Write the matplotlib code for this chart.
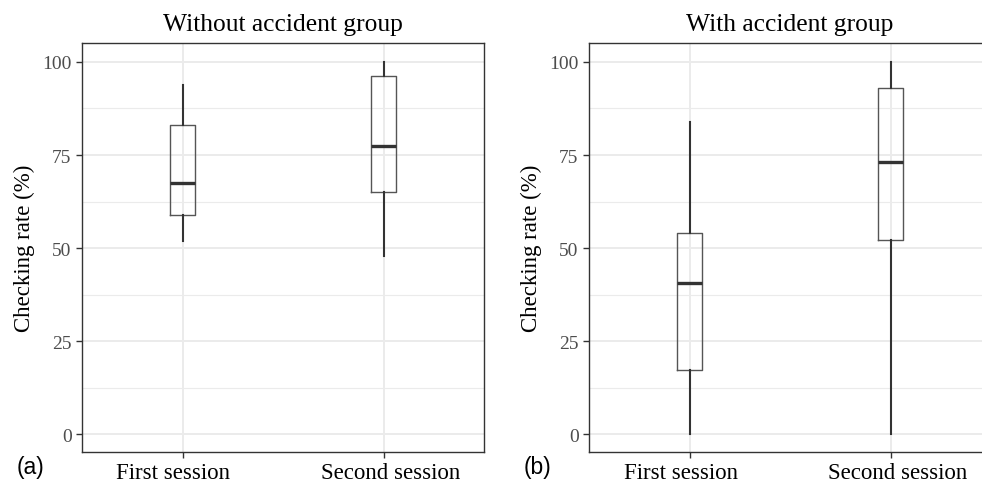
import matplotlib.pyplot as plt
from matplotlib.transforms import ScaledTranslation

# box stats: whisker low, Q1, median, Q3, whisker high
sessions = ['First session', 'Second session']
titles = ['Without accident group', 'With accident group']
panel_tags = ['(a)', '(b)']

without_low = [52.0, 47.9]
without_q1 = [58.8, 65.1]
without_med = [67.4, 77.4]
without_q3 = [83.2, 96.1]
without_high = [93.7, 100.0]

with_low = [0.0, 0.0]
with_q1 = [17.2, 52.2]
with_med = [40.5, 73.1]
with_q3 = [54.1, 93.0]
with_high = [84.0, 100.0]

yticks = [0, 25, 50, 75, 100]

plt.rcParams['font.family'] = ['Liberation Serif', 'DejaVu Serif']

fig = plt.figure(figsize=(9.82, 4.85), dpi=100)
W, H = 982.0, 485.0
axes_px = [(82, 44, 484, 453), (589, 44, 991, 453)]
label_shift_px = [-9, 7]  # the session labels sit a bit off their ticks

groups = [
    (without_low, without_q1, without_med, without_q3, without_high),
    (with_low, with_q1, with_med, with_q3, with_high),
]

for k, (x0, y0, x1, y1) in enumerate(axes_px):
    ax = fig.add_axes([x0 / W, 1 - y1 / H, (x1 - x0) / W, (y1 - y0) / H])
    lo, q1, med, q3, hi = groups[k]
    stats = []
    for i in range(len(sessions)):
        stats.append({'whislo': lo[i], 'q1': q1[i], 'med': med[i],
                      'q3': q3[i], 'whishi': hi[i], 'fliers': []})
    ax.bxp(stats, positions=[1, 2], widths=0.123, showcaps=False,
           boxprops=dict(color='#555555', linewidth=1.0),
           whiskerprops=dict(color='#333333', linewidth=1.5),
           medianprops=dict(color='#333333', linewidth=2.4),
           zorder=3)

    ax.set_xlim(0.5, 2.5)
    ax.set_ylim(-4.8, 105.1)
    ax.set_yticks(yticks)
    ax.set_yticks([12.5, 37.5, 62.5, 87.5], minor=True)
    ax.set_xticks([1, 2])
    ax.set_xticklabels(sessions)
    ax.grid(True, which='major', color='#EBEBEB', linewidth=1.4, zorder=0)
    ax.grid(True, which='minor', axis='y', color='#EBEBEB', linewidth=0.8, zorder=0)
    ax.set_axisbelow(True)
    ax.tick_params(axis='both', which='major', labelsize=14, labelcolor='#4D4D4D',
                   color='#333333', length=4, width=1)
    ax.tick_params(axis='x', labelcolor='black', labelsize=16.5, pad=3)
    ax.tick_params(which='minor', length=0)
    for lab, dx in zip(ax.get_xticklabels(), label_shift_px):
        lab.set_transform(lab.get_transform() +
                          ScaledTranslation(dx / 100, 0, fig.dpi_scale_trans))
    for s in ax.spines.values():
        s.set_color('#333333')
        s.set_linewidth(1.0)
    ax.set_ylabel('Checking rate (%)', fontsize=16.5, labelpad=5)
    ax.set_title(titles[k], fontsize=18.4, pad=9)
    fig.text((x0 - 65) / W, 1 - 468 / H, panel_tags[k], fontsize=16.5,
             family='Liberation Sans', va='center', ha='left')

fig.savefig('out.png', dpi=100)
